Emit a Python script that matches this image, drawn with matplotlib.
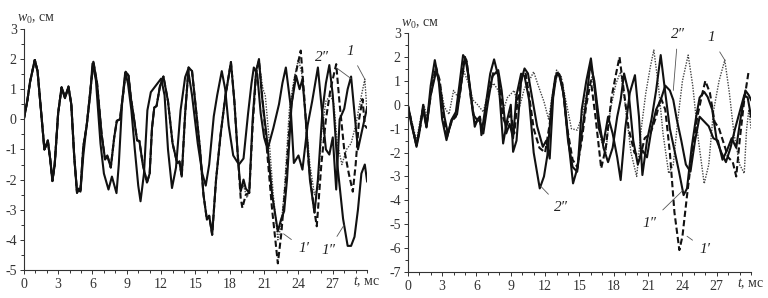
import numpy as np
import matplotlib
matplotlib.use('Agg')
import matplotlib.pyplot as plt
from matplotlib.ticker import MultipleLocator

plt.rcParams['font.family'] = ['Liberation Serif', 'DejaVu Serif']
plt.rcParams['axes.unicode_minus'] = False

# ---------- left panel ----------
# common start of curves 1, 1', 1''
L_base = [(0, 0), (0.3, 0.6), (0.55, 1.25), (0.96, 1.97), (1.2, 1.6), (1.5, 0.3), (1.8, -1.0),
          (2.1, -0.7), (2.3, -1.3), (2.5, -2.05), (2.7, -1.5), (3.0, 0.2), (3.3, 1.06), (3.6, 0.7),
          (3.9, 1.09), (4.15, 0.5), (4.4, -1.2), (4.65, -2.44), (4.8, -2.3), (4.95, -2.35),
          (5.2, -0.9), (5.5, -0.2), (5.8, 0.9), (6.08, 1.91), (6.4, 1.2), (6.8, -0.5), (7.1, -1.33),
          (7.3, -1.2), (7.6, -1.6), (7.9, -0.6), (8.13, -0.05), (8.4, 0.0), (8.7, 0.9), (8.9, 1.58),
          (9.15, 1.45), (9.36, 0.7), (9.6, 0.1), (9.9, -0.7), (10.1, -0.72), (10.4, -1.5),
          (10.76, -2.1), (11.0, -1.8), (11.2, -0.3), (11.4, 0.39), (11.6, 0.44), (11.9, 1.1),
          (12.2, 1.42), (12.6, 0.6), (13.0, -0.8), (13.4, -1.45), (13.6, -1.4), (13.8, -1.9),
          (14.1, 0.2), (14.4, 1.72), (14.7, 1.6), (15.0, 0.5), (15.4, -1.0), (15.7, -2.5),
          (16.0, -3.33), (16.2, -3.2), (16.46, -3.83), (16.8, -2.0), (17.2, -0.5), (17.6, 0.72),
          (18.1, 1.9), (18.4, 0.6), (18.7, -1.2)]

L_1pp_tail = [(18.95, -2.39), (19.2, -2.0), (19.4, -2.3), (19.7, -2.44), (20.0, 0.0), (20.3, 1.6),
              (20.55, 2.0), (20.8, 0.8), (21.2, -0.5), (21.7, -2.5), (22.2, -3.72), (22.5, -3.3),
              (22.75, -3.05), (23.0, -2.0), (23.4, 0.5), (23.8, 1.44), (24.1, 1.0), (24.35, 1.33),
              (24.6, 0.2), (25.0, -2.0), (25.4, -3.1), (25.7, -2.0), (26.1, 0.3), (26.4, 1.2),
              (26.7, 1.8), (27.0, 0.8), (27.4, -1.5), (27.9, -3.3), (28.3, -4.2), (28.6, -4.2),
              (28.9, -3.9), (29.2, -3.0), (29.5, -1.8), (29.8, -1.5), (30.0, -2.06)]

L_1p_tail = [(18.95, -2.6), (19.1, -2.94), (19.4, -2.5), (19.7, -2.44), (20.0, -0.2), (20.3, 1.5),
             (20.55, 1.95), (20.8, 0.9), (21.2, -0.8), (21.7, -3.0), (22.2, -4.78), (22.5, -3.8),
             (22.9, -2.0), (23.3, 0.2), (23.7, 1.4), (24.2, 2.28), (24.5, 0.8), (24.9, -1.5),
             (25.3, -2.8), (25.6, -3.55), (26.0, -1.5), (26.4, 0.0), (26.8, 1.0), (27.3, 1.83),
             (27.6, 0.5), (28.0, -1.0), (28.4, -1.8), (28.75, -2.4), (29.0, -1.5), (29.3, 0.0),
             (29.6, 0.67), (29.8, -0.2), (30.0, -0.3)]

L_1_tail = [(18.95, -2.4), (19.2, -2.2), (19.5, -2.6), (19.7, -2.4), (20.0, 0.0), (20.3, 1.7),
            (20.55, 1.9), (20.9, 1.0), (21.1, 0.8), (21.4, -0.5), (21.8, -2.5), (22.2, -4.0),
            (22.5, -3.5), (22.8, -2.2), (23.2, 0.3), (23.6, 1.3), (24.0, 2.0), (24.3, 1.5),
            (24.6, 0.2), (25.0, -1.5), (25.4, -2.5), (25.7, -2.3), (26.0, -0.5), (26.4, 0.6),
            (26.8, 0.8), (27.1, 0.5), (27.4, -0.8), (27.8, -1.5), (28.2, -1.0), (28.6, -0.8),
            (29.0, -0.2), (29.4, 0.6), (29.8, 1.33), (30.0, 0.2)]

L_2pp = [(0, 0), (0.3, 0.6), (0.55, 1.25), (0.96, 1.97), (1.2, 1.6), (1.5, 0.3), (1.8, -1.0),
         (2.1, -0.75), (2.3, -1.3), (2.5, -2.0), (2.7, -1.5), (3.0, 0.2), (3.3, 1.06), (3.6, 0.75),
         (3.9, 1.05), (4.15, 0.5), (4.4, -1.2), (4.65, -2.4), (4.8, -2.35), (4.95, -2.4),
         (5.2, -1.2), (5.4, -0.5), (5.8, 0.8), (6.0, 1.85), (6.3, 1.3), (6.7, -0.8), (7.0, -1.8),
         (7.4, -2.33), (7.7, -1.9), (8.1, -2.45), (8.3, -1.5), (8.6, 0.6), (8.86, 1.55),
         (9.1, 1.2), (9.4, 0.3), (9.7, -1.0), (10.0, -2.2), (10.2, -2.72), (10.5, -1.8),
         (10.8, 0.3), (11.1, 0.9), (11.5, 1.1), (12.0, 1.35), (12.3, 0.8), (12.6, -1.0),
         (12.95, -2.28), (13.3, -1.6), (13.7, 0.3), (14.1, 1.4), (14.35, 1.65), (14.7, 0.8),
         (15.2, -0.8), (15.6, -1.8), (15.9, -2.2), (16.2, -1.5), (16.6, 0.1), (16.9, 0.8),
         (17.3, 1.6), (17.6, 1.0), (17.9, -0.2), (18.3, -1.2), (18.8, -1.5), (19.2, -1.3),
         (19.6, 0.2), (19.9, 1.2), (20.1, 1.72), (20.4, 1.5), (20.7, 0.2), (21.0, -0.6),
         (21.3, -1.0), (21.8, -0.3), (22.3, 0.5), (22.6, 1.2), (22.9, 1.72), (23.3, 0.5),
         (23.6, -1.45), (24.0, -1.2), (24.35, -1.67), (24.8, -0.2), (25.2, 0.6), (25.7, 1.72),
         (26.0, 0.5), (26.4, -1.0), (26.7, -1.17), (27.0, -0.6), (27.3, -2.33), (27.6, 0.0),
         (28.0, 0.35), (28.3, 1.0), (28.6, 1.42), (28.9, 0.2), (29.2, -1.0), (29.6, -0.3),
         (30.0, 0.39)]

# ---------- right panel ----------
R_1 = [(0, 0), (0.4, -0.8), (0.76, -1.5), (1.1, -0.6), (1.4, 0.0), (1.7, -0.5), (2.0, 0.6),
       (2.4, 1.5), (2.8, 0.9), (3.2, -0.1), (3.6, -0.4), (4.0, 0.6), (4.4, 0.3), (4.9, 1.4),
       (5.3, 0.9), (5.7, 0.2), (6.1, 0.0), (6.6, -0.3), (7.0, 0.5), (7.5, 0.9), (7.9, 0.6),
       (8.3, -0.3), (8.7, 0.3), (9.3, 0.6), (9.7, -0.2), (10.2, 0.7), (10.6, 1.0), (11.0, 1.38),
       (11.4, 0.8), (11.9, 0.13), (12.3, -0.6), (12.7, 0.6), (13.0, 1.45), (13.4, 1.2),
       (13.8, 0.2), (14.3, -1.0), (14.8, -1.06), (15.2, -0.5), (15.6, 0.4), (16.1, 1.17),
       (16.5, 0.2), (16.9, -1.5), (17.3, -2.0), (17.7, -0.2), (18.2, 0.9), (18.6, 1.38),
       (19.0, 0.0), (19.5, -2.0), (20.0, -3.0), (20.4, -1.0), (20.8, 0.5), (21.2, 1.6),
       (21.5, 2.29), (21.9, 0.8), (22.3, -1.2), (22.8, -2.87), (23.2, -2.5), (23.6, -0.6),
       (24.0, 1.0), (24.5, 2.08), (24.9, 0.8), (25.4, -1.5), (25.9, -3.3), (26.3, -2.5),
       (26.7, -0.3), (27.2, 1.0), (27.7, 1.87), (28.1, 0.5), (28.5, -1.2), (29.0, -2.5),
       (29.4, -2.87), (29.6, -1.06), (29.8, -0.2), (30.0, -1.0)]

R_1p = [(0, 0), (0.4, -0.9), (0.76, -1.7), (1.1, -0.9), (1.34, -0.1), (1.63, -0.9), (2.0, 0.4),
        (2.45, 1.6), (2.8, 1.0), (3.1, -0.4), (3.4, -1.4), (3.8, -0.7), (4.2, -0.5), (4.6, 0.6),
        (4.9, 1.8), (5.15, 1.8), (5.5, 0.3), (5.9, -0.8), (6.3, -0.5), (6.5, -1.2), (7.0, 0.4),
        (7.5, 1.4), (7.9, 1.3), (8.3, -0.5), (8.6, -0.9), (9.0, -0.4), (9.3, -1.2), (9.6, 0.2),
        (10.0, 1.2), (10.3, 1.3), (10.6, 0.4), (11.0, -1.0), (11.5, -1.8), (12.0, -2.0),
        (12.4, -0.8), (12.8, 0.8), (13.1, 1.4), (13.5, 0.9), (13.9, -0.9), (14.4, -2.3),
        (14.8, -2.6), (15.2, -1.5), (15.6, 0.0), (16.0, 1.0), (16.4, -0.5), (16.9, -2.66),
        (17.3, -1.8), (17.8, 0.3), (18.2, 1.3), (18.5, 2.0), (18.9, 0.5), (19.3, -1.0),
        (19.8, -2.0), (20.3, -2.2), (20.7, -1.4), (21.2, -1.2), (21.7, -0.5), (22.1, 0.3),
        (22.5, -0.2), (22.9, -2.0), (23.3, -4.5), (23.73, -6.08), (24.0, -5.5), (24.4, -3.8),
        (24.8, -2.2), (25.3, -0.5), (25.7, 0.4), (26.0, 1.0), (26.4, 0.5), (26.8, -0.7),
        (27.2, -1.0), (27.6, -1.6), (28.0, -2.2), (28.4, -2.4), (28.7, -3.0), (29.0, -1.5),
        (29.4, 0.2), (29.8, 1.45)]

R_1pp = [(0, 0), (0.3, -0.7), (0.76, -1.76), (1.0, -1.2), (1.34, 0.0), (1.63, -0.92), (2.0, 0.8),
         (2.36, 1.87), (2.7, 1.0), (3.0, -0.6), (3.38, -1.48), (3.8, -0.64), (4.2, -0.3),
         (4.5, 0.8), (4.83, 2.08), (5.12, 1.87), (5.5, 0.5), (5.85, -0.92), (6.1, -0.6),
         (6.3, -0.5), (6.43, -1.27), (6.9, 0.3), (7.2, 1.3), (7.54, 1.9), (7.9, 1.2),
         (8.33, -1.62), (8.7, -0.6), (9.0, 0.0), (9.2, -1.97), (9.5, -1.5), (9.9, 1.0),
         (10.2, 1.52), (10.5, 1.31), (10.9, 0.2), (11.3, -0.9), (11.8, -1.76), (12.1, -1.5),
         (12.4, -2.25), (12.7, 0.3), (13.0, 1.31), (13.3, 1.2), (13.7, 0.2), (14.1, -1.8),
         (14.44, -3.29), (14.85, -2.6), (15.2, -0.2), (15.6, 1.0), (16.0, 1.94), (16.3, 0.8),
         (16.7, -1.0), (17.1, -1.6), (17.5, -0.5), (17.9, -1.2), (18.3, -2.2), (18.6, -3.15),
         (19.0, -1.0), (19.4, 0.5), (19.85, 1.24), (20.2, -0.5), (20.5, -2.94), (20.9, -1.5),
         (21.3, -0.6), (21.7, 0.6), (22.1, 2.08), (22.5, 0.5), (22.9, -1.0), (23.3, -1.9),
         (23.7, -2.8), (24.1, -3.78), (24.4, -3.5), (24.8, -1.8), (25.2, -0.5), (25.5, 0.3),
         (25.9, 0.54), (26.2, 0.33), (26.6, -0.2), (27.0, -1.5), (27.4, -2.0), (27.8, -2.4),
         (28.2, -1.8), (28.6, -1.0), (29.0, -0.3), (29.4, 0.4), (29.7, 0.3), (30.0, -0.5)]

R_2pp = [(0, 0), (0.3, -0.8), (0.76, -1.7), (1.1, -0.8), (1.34, -0.2), (1.63, -0.95), (2.0, 0.4),
         (2.5, 1.45), (2.8, 0.8), (3.2, -0.5), (3.5, -1.2), (3.9, -0.6), (4.3, -0.4), (4.7, 1.0),
         (5.0, 2.0), (5.3, 1.2), (5.7, -0.4), (6.0, -0.6), (6.3, -0.7), (6.6, -1.2), (7.0, 0.1),
         (7.4, 1.2), (7.9, 1.45), (8.2, 0.6), (8.6, -1.2), (8.9, -0.8), (9.2, -1.4), (9.5, 0.4),
         (9.9, 1.3), (10.2, 1.2), (10.6, 0.2), (11.0, -2.0), (11.53, -3.5), (11.9, -3.0),
         (12.2, -2.1), (12.6, 0.2), (12.9, 1.2), (13.2, 1.3), (13.6, 0.5), (14.0, -1.5),
         (14.4, -2.6), (14.8, -2.8), (15.2, -1.2), (15.6, 0.2), (15.95, 1.7), (16.3, 1.0),
         (16.7, -0.6), (17.1, -1.8), (17.5, -2.4), (17.9, -1.8), (18.3, -0.5), (18.6, 0.2),
         (18.9, 1.31), (19.3, 0.5), (19.7, -1.5), (20.1, -2.5), (20.5, -1.9), (20.9, -2.2),
         (21.3, -1.0), (21.7, -0.2), (22.1, 0.2), (22.5, 0.8), (22.9, 0.6), (23.2, 0.2),
         (23.5, -0.6), (23.9, -1.5), (24.3, -2.5), (24.7, -2.8), (25.1, -1.5), (25.5, -0.5),
         (25.9, -0.7), (26.3, -0.9), (26.7, -1.4), (27.1, -1.5), (27.5, -2.3), (27.9, -1.9),
         (28.3, -1.4), (28.7, -1.8), (29.1, -0.5), (29.5, 0.6), (29.8, 0.4), (30.0, 0.2)]

x_ticks = [0, 3, 6, 9, 12, 15, 18, 21, 24, 27]
x_ticklabels = ['0', '3', '6', '9', '12', '15', '18', '21', '24', '27']

# label text, text position, line end
L_labels = [("2\u2033", (26.1, 2.05), (28.6, 1.35)),
            ("1", (28.5, 2.25), (29.8, 1.33)),
            ("1\u2032", (24.5, -4.3), (22.7, -3.8)),
            ("1\u2033", (26.6, -4.35), (28.0, -3.5))]
R_labels = [("2\u2033", (23.6, 2.95), (23.2, 0.6)),
            ("1", (26.5, 2.8), (27.7, 1.87)),
            ("2\u2033", (13.4, -4.3), (11.6, -3.4)),
            ("1\u2033", (21.1, -4.95), (24.0, -3.6)),
            ("1\u2032", (26.0, -6.05), (24.4, -5.5))]

tc = '#333333'


def draw(ax, curves, ylim, labels):
    for data, style in curves:
        d = np.array(data)
        ax.plot(d[:, 0], d[:, 1], **style)
    ax.set_xlim(0, 30)
    ax.set_ylim(*ylim)
    for s in ['top', 'right']:
        ax.spines[s].set_visible(False)
    for s in ['left', 'bottom']:
        ax.spines[s].set_color(tc)
        ax.spines[s].set_linewidth(0.8)
    ax.set_xticks(x_ticks)
    ax.set_xticklabels(x_ticklabels)
    ax.xaxis.set_minor_locator(MultipleLocator(1))
    ax.set_yticks(range(ylim[0], ylim[1] + 1))
    ax.yaxis.set_minor_locator(MultipleLocator(0.5))
    ax.tick_params(which='both', colors=tc, labelsize=10, width=0.7)
    ax.tick_params(which='major', length=3)
    ax.tick_params(which='minor', length=2.5)
    ax.tick_params(axis='y', pad=2)
    ax.tick_params(axis='x', pad=3)
    ax.text(28.8, ylim[0] - 0.02 * (ylim[1] - ylim[0]), '$t$, мс', ha='left', va='top',
            fontsize=10, color=tc, clip_on=False)
    ax.text(-0.6, ylim[1] + 0.1, '$w_0$, см', ha='left', va='bottom', fontsize=10,
            color=tc, clip_on=False)
    for txt, pos, tip in labels:
        ax.annotate(txt, xy=tip, xytext=pos, fontsize=11, style='italic', color='#222222',
                    ha='center', va='center',
                    arrowprops=dict(arrowstyle='-', color='#555555', lw=0.6, shrinkA=4, shrinkB=0))


plt.rcParams['mathtext.fontset'] = 'custom'
plt.rcParams['mathtext.it'] = 'Liberation Serif:italic'
plt.rcParams['mathtext.rm'] = 'Liberation Serif'

fig = plt.figure(figsize=(7.68, 2.98), dpi=100)
ax1 = fig.add_axes([0.031, 0.094, 0.447, 0.809])
ax2 = fig.add_axes([0.531, 0.087, 0.447, 0.802])

solid = dict(color='#111111', lw=1.5, ls='-')
dashed = dict(color='#111111', lw=1.5, ls=(0, (3, 1.5)))
dotted = dict(color='#444444', lw=1.0, ls=(0, (1, 1)))

draw(ax1, [(L_base + L_1_tail, dotted), (L_base + L_1p_tail, dashed),
           (L_base + L_1pp_tail, solid), (L_2pp, solid)], (-5, 3), L_labels)
draw(ax2, [(R_1, dotted), (R_1p, dashed), (R_1pp, solid), (R_2pp, solid)], (-7, 3), R_labels)

fig.savefig('out.png', dpi=100)
